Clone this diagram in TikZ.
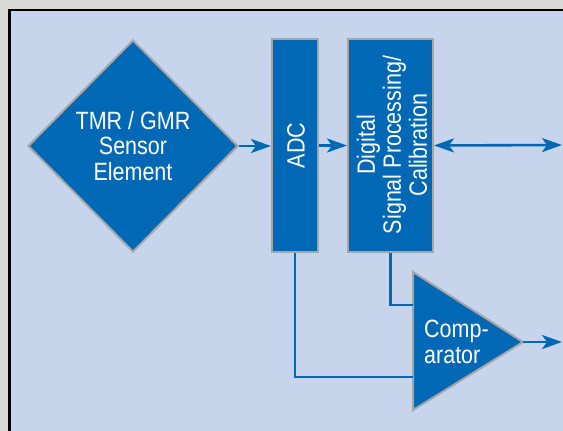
\documentclass[tikz,border=0pt]{standalone}
\usepackage{fontspec}
\setmainfont{Liberation Sans}
\newfontfamily\narrowfont[FakeStretch=0.86]{Liberation Sans}
\usetikzlibrary{shapes.geometric,arrows.meta}
\definecolor{bgout}{HTML}{D9D9D5}
\definecolor{panel}{HTML}{C6D5EB}
\definecolor{blk}{HTML}{0068B4}
\definecolor{edge}{HTML}{A6A6A6}
\tikzset{
  lbl/.style={text=white, inner sep=0pt, font=\narrowfont\fontsize{25}{25.5}\selectfont, align=center},
  blockbox/.style={draw=edge, line width=2pt, fill=blk, inner sep=0pt},
  conn/.style={draw=blk, line width=2.6pt},
  tip/.style={-{Stealth[length=20pt,width=14pt,inset=5pt]}},
  tips/.style={{Stealth[length=20pt,width=14pt,inset=5pt]}-{Stealth[length=20pt,width=14pt,inset=5pt]}}
}
\begin{document}
\begin{tikzpicture}[x=1pt,y=-1pt]
\useasboundingbox (0,0) rectangle (563,431);
\fill[bgout] (0,0) rectangle (563,431);
\fill[black] (8,8.5) rectangle (565,433);
\fill[panel] (11,11) rectangle (565,433);

\node[blockbox, lbl, shape=diamond, minimum width=210pt, minimum height=212pt] (sensor) at (133,146)
  {TMR / GMR\\Sensor\\Element};
\node[blockbox, minimum width=46pt, minimum height=213pt] (adc) at (295,145.5) {};
\node[lbl, rotate=90] (adctext) at (296,145.5) {ADC};
\node[blockbox, minimum width=85pt, minimum height=213pt] (dsp) at (390.5,145.5) {};
\node[lbl, rotate=90, font=\narrowfont\fontsize{25}{26}\selectfont] (dsptext) at (392,145)
  {Digital\\Signal Processing/\\Calibration};

\draw[draw=edge, line width=2pt, fill=blk] (413,272) -- (523,342) -- (413,410) -- cycle;
\coordinate (cmpin1) at (413,305);
\coordinate (cmpin2) at (413,377);
\coordinate (cmpout) at (523,342);
\node[lbl, anchor=west, align=left] (cmptext) at (424,342)
  {Comp-\\arator};

\coordinate (busend) at (562,145);
\coordinate (outend) at (562,342);
\coordinate (adcin) at (adc.west |- sensor.east);

\draw[conn, tip] (sensor.east) -- (adcin);
\draw[conn, tip] (adc.east |- dsp.west) -- (dsp.west);
\draw[conn, tips] (dsp.east) -- (busend);
\draw[conn] (adc.south) |- (cmpin2);
\draw[conn] (dsp.south) |- (cmpin1);
\draw[conn, tip] (cmpout) -- (outend);
\end{tikzpicture}
\end{document}
